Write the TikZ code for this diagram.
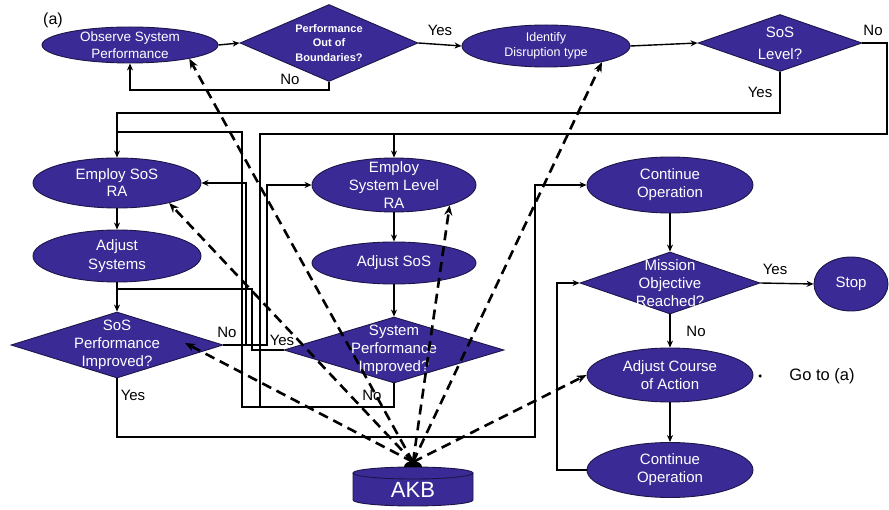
\documentclass[tikz,border=0pt]{standalone}
\usepackage{fontspec}
\setmainfont{Liberation Sans}
\usetikzlibrary{shapes.geometric,arrows.meta}

\definecolor{kbfill}{RGB}{58,42,150}
\definecolor{kbedge}{RGB}{28,22,72}

\tikzset{
  flowell/.style={ellipse, draw=kbedge, line width=0.9pt, fill=kbfill, inner sep=0pt},
  flowdec/.style={diamond, draw=kbedge, line width=0.9pt, fill=kbfill, inner sep=0pt},
  intext/.style={text=white, align=center, inner sep=0pt, font=\fontsize{15}{18}\selectfont},
  lbl/.style={font=\fontsize{15}{18}\selectfont, inner sep=0pt},
  flow/.style={line width=1.4pt, -{Stealth[length=7pt,width=6pt]}},
  wire/.style={line width=1.4pt},
  kbarrow/.style={line width=2.6pt, dash pattern=on 10pt off 6pt, -{Stealth[length=10pt,width=8pt]}},
}

\begin{document}
\begin{tikzpicture}[x=1pt,y=-1pt]
\useasboundingbox (0,0) rectangle (889,510);

% ---------- top row ----------
\node[lbl, font=\fontsize{16}{18}\selectfont] (tagA) at (53,20) {(a)};
\node[flowell, minimum width=176, minimum height=36,
  label={[intext,font=\fontsize{13.5}{17}\selectfont]center:{Observe System\\Performance}}] (obs) at (130,45) {};
\node[flowdec, minimum width=178, minimum height=77,
  label={[intext,font=\bfseries\fontsize{11}{14.5}\selectfont]center:{Performance\\Out of\\Boundaries?}}] (perf) at (329,43) {};
\node[flowell, minimum width=168, minimum height=42,
  label={[intext,font=\fontsize{12.5}{15}\selectfont]center:{Identify\\Disruption type}}] (ident) at (546,46) {};
\node[flowdec, minimum width=164, minimum height=57,
  label={[intext,font=\fontsize{15}{22}\selectfont]center:{SoS\\Level?}}] (sosl) at (780,43) {};

% ---------- SoS branch ----------
\node[flowell, minimum width=168, minimum height=50,
  label={[intext,font=\fontsize{15}{17}\selectfont]center:{Employ SoS\\RA}}] (esos) at (117,183) {};
\node[flowell, minimum width=168, minimum height=52,
  label={[intext,font=\fontsize{15}{18.5}\selectfont]center:{Adjust\\Systems}}] (adjsys) at (117,256) {};
\node[flowdec, minimum width=212, minimum height=66,
  label={[intext]center:{SoS\\Performance\\Improved?}}] (sosperf) at (117,345) {};

% ---------- system branch ----------
\node[flowell, minimum width=164, minimum height=54,
  label={[intext]center:{Employ\\System Level\\RA}}] (esys) at (394,185) {};
\node[flowell, minimum width=164, minimum height=42,
  label={[intext]center:{Adjust SoS}}] (adjsos) at (394,263) {};
\node[flowdec, minimum width=220, minimum height=66,
  label={[intext]center:{System\\Performance\\Improved?}}] (sysperf) at (394,350) {};

% ---------- operation column ----------
\node[flowell, minimum width=166, minimum height=56,
  label={[intext]center:{Continue\\Operation}}] (cont1) at (670,185) {};
\node[flowdec, minimum width=180, minimum height=62,
  label={[intext]center:{Mission\\Objective\\Reached?}}] (mission) at (670,283) {};
\node[flowell, minimum width=74, minimum height=54,
  label={[intext]center:{Stop}}] (stop) at (851,284) {};
\node[flowell, minimum width=166, minimum height=54,
  label={[intext]center:{Adjust Course\\of Action}}] (adjc) at (670,375) {};
\node[flowell, minimum width=166, minimum height=55,
  label={[intext]center:{Continue\\Operation}}] (cont2) at (670,470) {};
\node[circle, fill=black, inner sep=0pt, minimum size=3.5pt] (gdot) at (760,376) {};
\node[lbl, font=\fontsize{16.5}{18}\selectfont] (goto) at (822,376) {Go to (a)};

% ---------- knowledge base cylinder ----------
\fill[kbfill] (353,473) -- (353,500) arc[start angle=180,end angle=360,x radius=60pt,y radius=6pt]
  -- (473,473) -- cycle;
\draw[kbedge, line width=0.9pt] (353,473) -- (353,500) arc[start angle=180,end angle=360,x radius=60pt,y radius=6pt]
  -- (473,473);
\draw[kbedge, line width=0.9pt, fill=kbfill] (413,473) ellipse[x radius=60pt, y radius=6pt];
\node[text=white, font=\fontsize{22}{26}\selectfont, inner sep=0pt] (akb) at (413,490) {AKB};
\fill (404,467) arc[start angle=180,end angle=0,x radius=9pt,y radius=6pt] -- cycle;
\coordinate (kbtop) at (413,462);

% ---------- junction points ----------
\coordinate (yesTop) at (117,113);
\coordinate (noTopR) at (887,134);
\coordinate (noTopL) at (260,134);
\coordinate (loopTop) at (242,132);
\coordinate (loopBot) at (242,407);
\coordinate (yesA) at (252,289);
\coordinate (noR) at (267,185);
\coordinate (noL) at (246,183);
\coordinate (yesB) at (535,437);
\coordinate (loopR) at (557,470);

% ---------- solid connectors ----------
\draw[flow] (obs.east) -- (perf.west);
\draw[flow] (perf.south) -- ++(0,8) -| (obs.south);
\draw[flow] (perf.east) -- (ident.west);
\draw[flow] (ident.east) -- (sosl.west);

\draw[flow] (sosl.south) |- (yesTop) -- (esos.north);
\draw[wire] (sosl.east) -| (noTopR) -- (noTopL) -- (noTopL |- loopBot);
\draw[flow] (esys.north |- noTopR) -- (esys.north);
\draw[wire] (sysperf.south) |- (loopBot) -- (loopTop) -- (loopTop -| esos.north);

\draw[flow] (esos.south) -- (adjsys.north);
\draw[flow] (adjsys.south) -- (sosperf.north);
\draw[wire] (sysperf.west) -| (yesA) -- (yesA -| adjsys.south);

\draw[flow] (sosperf.east) -| (noR) -- (esys.west);
\draw[flow] (sosperf.east -| noL) -- (noL) -- (esos.east);

\draw[flow] (esys.south) -- (adjsos.north);
\draw[flow] (adjsos.south) -- (sysperf.north);

\draw[flow] (sosperf.south) |- (yesB) |- (cont1.west);
\draw[flow] (cont1.south) -- (mission.north);
\draw[flow] (mission.east) -- (stop.west);
\draw[flow] (mission.south) -- (adjc.north);
\draw[flow] (adjc.south) -- (cont2.north);
\draw[flow] (cont2.west) -- (loopR) |- (mission.west);

% ---------- branch labels ----------
\node[lbl] (perfNo) at (290,79) {No};
\node[lbl] (perfYes) at (440,30) {Yes};
\node[lbl] (soslNo) at (873,30) {No};
\node[lbl] (soslYes) at (760,92) {Yes};
\node[lbl] (sosperfNo) at (227,332) {No};
\node[lbl] (sysperfYes) at (282,340) {Yes};
\node[lbl] (sosperfYes) at (133,395) {Yes};
\node[lbl] (sysperfNo) at (372,395) {No};
\node[lbl] (missionYes) at (775,269) {Yes};
\node[lbl] (missionNo) at (696,331) {No};

% ---------- knowledge base links ----------
\draw[kbarrow] (kbtop) -- (obs.-13);
\draw[kbarrow] (kbtop) -- (ident.-16);
\draw[kbarrow] (kbtop) -- (esos.-21);
\draw[kbarrow] (kbtop) -- (esys.-20);
\draw[kbarrow] (kbtop) -- ([xshift=68pt,yshift=2pt]sosperf.center);
\draw[kbarrow] (kbtop) -- (adjc.west);

\end{tikzpicture}
\end{document}
